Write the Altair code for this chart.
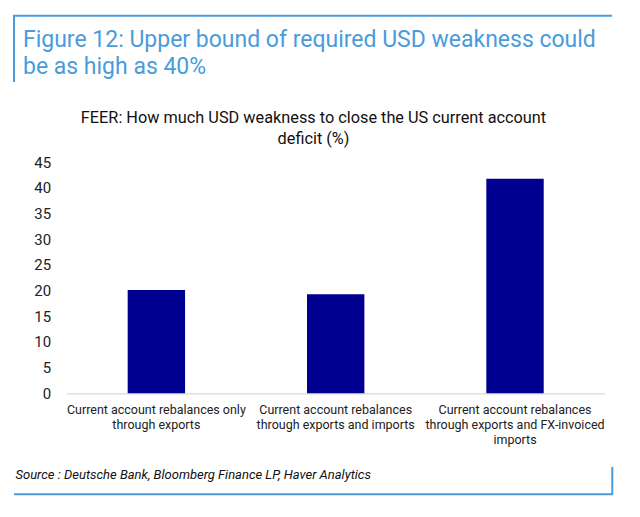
import altair as alt
import pandas as pd

categories = [
    "Current account rebalances only\nthrough exports",
    "Current account rebalances\nthrough exports and imports",
    "Current account rebalances\nthrough exports and FX-invoiced\nimports",
]
values = [20.1, 19.3, 41.8]
y_ticks = [0, 5, 10, 15, 20, 25, 30, 35, 40, 45]

title_text = "Figure 12: Upper bound of required USD weakness could\nbe as high as 40%"
subtitle_text = "FEER: How much USD weakness to close the US current account\ndeficit (%)"
source_text = "Source : Deutsche Bank, Bloomberg Finance LP, Haver Analytics"

BLUE = "#4A9BDB"
FONT = "Roboto"

# plot area origin on the page: x=66.7, y=162.3
OX, OY = 66.7, 162.3
W, H = 538, 231


def px(x):
    return x - OX


def py(y):
    return y - OY


df = pd.DataFrame({"cat": categories, "val": values})

bars = alt.Chart(df).mark_bar(color="#000090").encode(
    x=alt.X(
        "cat:N",
        sort=categories,
        title=None,
        scale=alt.Scale(paddingInner=0.68, paddingOuter=0.34),
        axis=alt.Axis(
            labelAngle=0,
            labelExpr="split(datum.label, '\\n')",
            labelFont=FONT,
            labelFontSize=12.5,
            labelColor="#222222",
            labelLineHeight=15.3,
            labelPadding=10,
            labelBaseline="top",
            ticks=False,
            domainColor="#D9D9D9",
            domainWidth=1.2,
            labelLimit=300,
        ),
    ),
    y=alt.Y(
        "val:Q",
        title=None,
        scale=alt.Scale(domain=[0, 45], nice=False, zero=True),
        axis=alt.Axis(
            values=y_ticks,
            grid=False,
            domain=False,
            ticks=False,
            labelFont=FONT,
            labelFontSize=15,
            labelColor="#222222",
            labelPadding=16,
        ),
    ),
)

one = pd.DataFrame({"t": [0]})

title = alt.Chart(one).mark_text(
    align="left", baseline="alphabetic", font=FONT, fontSize=23,
    color=BLUE, lineBreak="\n", lineHeight=27.5,
).encode(x=alt.value(px(23)), y=alt.value(py(47)), text=alt.value(title_text))

subtitle = alt.Chart(one).mark_text(
    align="center", baseline="alphabetic", font=FONT, fontSize=16.3,
    color="#111111", lineBreak="\n", lineHeight=21,
).encode(x=alt.value(px(313.5)), y=alt.value(py(123)), text=alt.value(subtitle_text))

source = alt.Chart(one).mark_text(
    align="left", baseline="middle", font=FONT, fontSize=13, fontStyle="italic",
    color="#111111",
).encode(x=alt.value(px(15.5)), y=alt.value(py(475)), text=alt.value(source_text))

line_style = dict(color=BLUE, strokeWidth=2)
top_line = alt.Chart(one).mark_rule(**line_style).encode(
    x=alt.value(px(13)), x2=alt.value(px(612)), y=alt.value(py(15.7)))
left_line = alt.Chart(one).mark_rule(**line_style).encode(
    x=alt.value(px(14)), y=alt.value(py(15.7)), y2=alt.value(py(82)))
bottom_line = alt.Chart(one).mark_rule(**line_style).encode(
    x=alt.value(px(14)), x2=alt.value(px(613)), y=alt.value(py(494.3)))
right_line = alt.Chart(one).mark_rule(**line_style).encode(
    x=alt.value(px(612.3)), y=alt.value(py(467)), y2=alt.value(py(494.3)))

chart = alt.layer(
    bars, title, subtitle, source, top_line, left_line, bottom_line, right_line
).properties(
    width=W,
    height=H,
    autosize=alt.AutoSizeParams(type="none"),
    padding={"left": OX - 8, "top": OY - 8, "right": 20, "bottom": 120},
    background="white",
).configure_view(stroke=None)

chart.save("out.html", embed_options={"renderer": "svg", "actions": False})
